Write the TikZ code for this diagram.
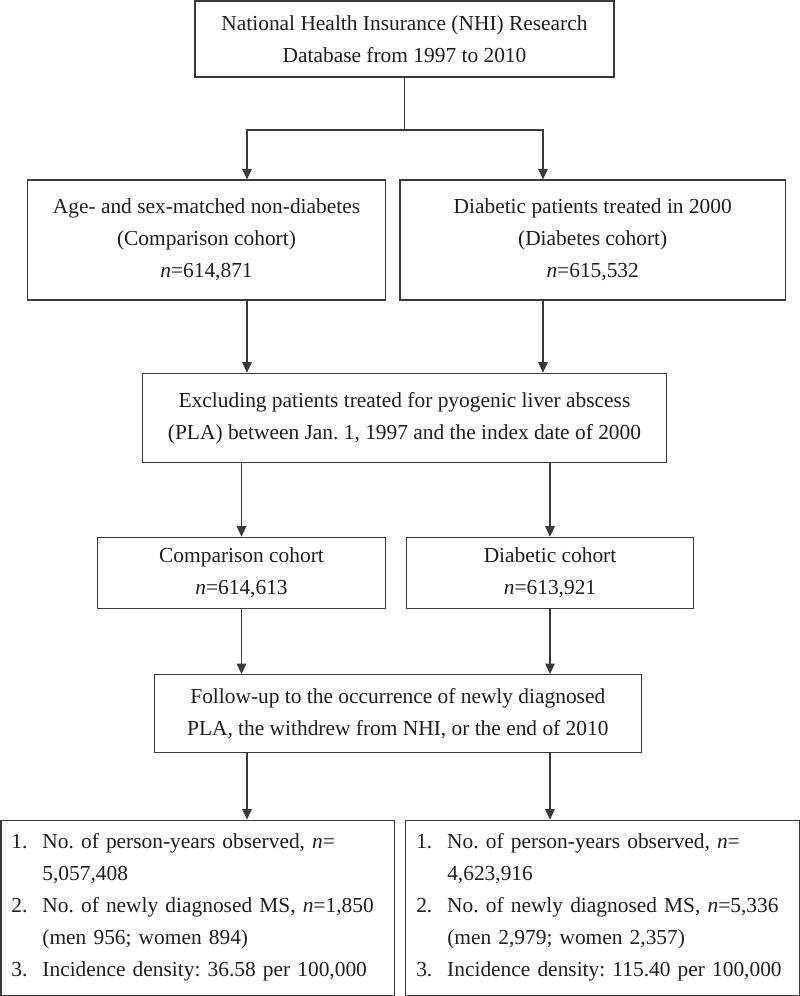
\documentclass[tikz,border=0pt]{standalone}
\usepackage{fontspec}
\setmainfont{Liberation Serif}
\frenchspacing
\usetikzlibrary{arrows.meta,positioning}
\definecolor{linegray}{HTML}{3A3A3A}
\definecolor{textgray}{HTML}{1E1E1E}
\tikzset{
  basic/.style  = {draw, rectangle, inner sep=0pt,
                   text=textgray, font=\fontsize{21.4}{32}\selectfont},
  head/.style   = {basic, align=center},
  result/.style = {basic, align=left, text width=372.7pt, inner xsep=10.5pt,
                   minimum height=175pt}
}
\newcommand{\listno}[1]{\makebox[31pt][l]{#1}}
\newcommand{\listgap}{\hspace*{31pt}}

\begin{document}
\begin{tikzpicture}[
  >={Triangle[width=9.5pt,length=10.5pt]},
  color=linegray, line width=1.2pt]
\useasboundingbox (0,0) rectangle (800pt,-996pt);

% base de datos
\node[head, minimum width=419pt, minimum height=76pt] (db) at (404.5pt,-39pt)
  {National Health Insurance (NHI) Research\\ Database from 1997 to 2010};

% the two cohorts
\node[head, minimum width=357.6pt, minimum height=120pt,
      below of = db, node distance=201pt, xshift=-198pt] (nondm)
  {Age- and sex-matched non-diabetes\\ (Comparison cohort)\\ \textit{n}=614,871};
\node[head, minimum width=385.3pt, minimum height=120pt,
      right of = nondm, node distance=386.2pt] (dm)
  {Diabetic patients treated in 2000\\ (Diabetes cohort)\\ \textit{n}=615,532};

% exclusion
\node[head, minimum width=523.7pt, minimum height=89.4pt,
      below of = db, node distance=379pt] (excl)
  {Excluding patients treated for pyogenic liver abscess\\ (PLA) between Jan. 1, 1997 and the index date of 2000};

\node[head, minimum width=287.7pt, minimum height=71pt,
      below of = excl, node distance=154.8pt, xshift=-163pt] (nondm2)
  {Comparison cohort\\ \textit{n}=614,613};
\node[head, minimum width=287.3pt, minimum height=71pt,
      right of = nondm2, node distance=308.5pt] (dm2)
  {Diabetic cohort\\ \textit{n}=613,921};

% follow-up
\node[head, minimum width=487pt, minimum height=77.6pt,
      below of = excl, node distance=295.5pt, xshift=-6.7pt] (fup)
  {Follow-up to the occurrence of newly diagnosed\\ PLA, the withdrew from NHI, or the end of 2010};

% results
\node[result, below of = fup, node distance=194.2pt, xshift=-200pt] (res1)
  {\listno{1.}No. of person-years observed, \textit{n}=\\
   \listgap 5,057,408\\
   \listno{2.}No. of newly diagnosed MS, \textit{n}=1,850\\
   \listgap (men 956; women 894)\\
   \listno{3.}Incidence density: 36.58 per 100,000};
\node[result, right of = res1, node distance=404.8pt] (res2)
  {\listno{1.}No. of person-years observed, \textit{n}=\\
   \listgap 4,623,916\\
   \listno{2.}No. of newly diagnosed MS, \textit{n}=5,336\\
   \listgap (men 2,979; women 2,357)\\
   \listno{3.}Incidence density: 115.40 per 100,000};

\coordinate [below of = db, node distance=91pt] (split);
\coordinate [left of = split, node distance=157.5pt] (colL);
\coordinate [right of = split, node distance=138.5pt] (colR);

\draw (db) -- (split);
\foreach \nm/\cl in {nondm/colL, dm/colR}
  \draw[->] (split) -| (\nm.north -| \cl);

\foreach \nm/\cl in {nondm/colL, dm/colR}
  \draw[->] (\nm.south -| \cl) -- (excl.north -| \cl);

\foreach \nm in {nondm2, dm2}
  \draw[->] (excl.south -| \nm) -- (\nm.north);

\foreach \nm in {nondm2, dm2}
  \draw[->] (\nm.south) -- (\nm.south |- fup.north);

\foreach \nm/\cl in {res1/colL, res2/dm2}
  \draw[->] (fup.south -| \cl) -- (\nm.north -| \cl);
\end{tikzpicture}
\end{document}
